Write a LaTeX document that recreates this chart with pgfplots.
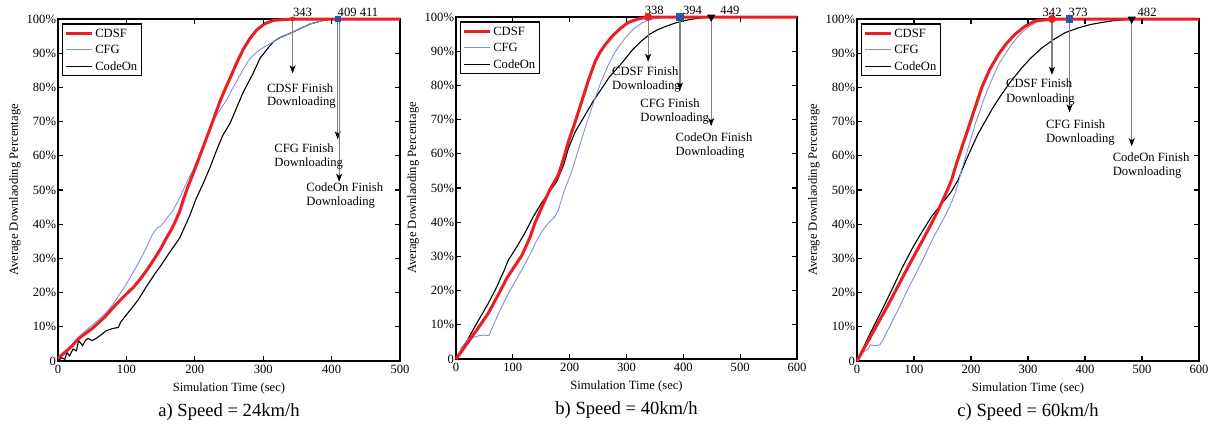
\documentclass[border=0pt]{standalone}
\usepackage{fontspec}
\setmainfont{Liberation Serif}
\usepackage{pgfplots}
\pgfplotsset{compat=1.18}
\usetikzlibrary{arrows.meta}
\definecolor{cdsfc}{RGB}{235,30,35}
\definecolor{cfgc}{RGB}{125,148,215}
\definecolor{cfgsq}{RGB}{45,85,165}
\definecolor{arrgray}{RGB}{128,128,128}
\newcommand{\fs}{\fontsize{6.3}{7}\selectfont}
\tikzset{
  arr/.style={line width=0.6pt, arrgray, -{Stealth[black, length=4pt, width=3pt, inset=1pt]}},
  ann/.style={anchor=base west, inner sep=0, font=\fs},
  num/.style={anchor=base west, inner sep=0, font=\fs, yshift=1.5pt},
  tk/.style={black, line width=0.55pt},
}
\newcommand{\myticks}[2]{%
  \pgfplotsinvokeforeach{10,20,...,90}{\draw[tk] (axis cs:0,##1) -- ++(2.6pt,0pt); \draw[tk] (axis cs:#1,##1) -- ++(-2.6pt,0pt);}%
  \pgfplotsinvokeforeach{100,200,...,#2}{\draw[tk] (axis cs:##1,0) -- ++(0pt,2.6pt); \draw[tk] (axis cs:##1,100) -- ++(0pt,-2.6pt);}%
}
\pgfplotsset{
  myax/.style={
    scale only axis, width=171pt, height=171pt,
    ymin=0, ymax=100, ytick={0,10,...,100},
    yticklabels={0,10\%,20\%,30\%,40\%,50\%,60\%,70\%,80\%,90\%,100\%},
    tick align=inside, major tick length=2.6pt,
    tick style={line width=0.55pt, black},
    axis line style={line width=0.6pt},
    xticklabel style={font=\fs, inner sep=0.8pt, yshift=-1.2pt},
    yticklabel style={font=\fs, inner sep=0.8pt},
    label style={font=\fs},
    xlabel={Simulation Time (sec)},
    ylabel={Average Downlaoding Percentage},
    xlabel style={at={(axis description cs:0.5,-0.079)}, anchor=center},
    ylabel style={at={(axis description cs:-0.126,0.5)}, anchor=center},
    clip=false,
    reverse legend,
    legend cell align=left,
    legend style={at={(0.012,0.987)}, anchor=north west, draw=black, line width=0.6pt,
      inner sep=1pt, font=\fs, nodes={inner sep=1pt, text height=4.6pt, text depth=0.4pt}, row sep=1.3pt},
    legend image code/.code={\draw[##1] (0pt,0pt) -- (12.8pt,0pt);},
  },
  cdsf/.style={color=cdsfc, line width=1.5pt, no markers},
  cfg/.style={color=cfgc, line width=0.45pt, no markers},
  codeon/.style={color=black, line width=0.55pt, no markers},
}
\begin{document}
\begin{tikzpicture}
\path[use as bounding box] (0,0) rectangle (609.5pt,212pt);
% ---------------- panel a
\begin{axis}[myax, at={(29pt,31.5pt)}, xmin=0, xmax=500, xtick={0,100,...,500},
  xticklabels={0,100,200,300,400,500}]
\addplot[codeon] coordinates {(0,0) (5,1) (10,0.5) (13,2.5) (17,1.5) (22,3.5) (27,3) (30,6) (36,4.5) (40,6) (44,6.6) (50,6) (55,6.5) (62,7.5) (70,8.8) (80,9.5) (88,9.8) (92,11.5) (98,13) (108,15.5) (117,17.8) (130,22) (142,25.6) (150,27.8) (160,30.8) (169,33.4) (178,36) (183.2,38.3) (193,42.7) (202,47.5) (212.5,52) (222,56.5) (232,61.7) (241,66) (251.5,69.5) (260,73.5) (271,78.7) (285,84) (295.3,88.5) (305,91) (315,93.4) (325,94.6) (339,95.8) (350,96.8) (368,98.5) (388,99.6) (400,100) (500,100)};
\addlegendentry{CodeOn}
\addplot[cfg] coordinates {(0,0.5) (10,2.5) (20,4.8) (30,7) (40,8.8) (50,10.5) (60,12.2) (69,13.9) (80,16.5) (90,19.5) (100,22.5) (110,26) (120,29.5) (130,33.5) (138,37) (144.3,38.8) (150,39.5) (160,42) (168.6,44.2) (176,47) (183.2,50) (190,53) (197.8,56) (212.5,63) (222,68) (230,71.3) (238,73.8) (246.6,76.3) (254,79.3) (261,81.7) (270,85) (280.7,88.5) (290,90.2) (300,91.6) (310,92.8) (320,94) (334,95.3) (350,96.8) (368,98.5) (388,99.6) (400,100) (500,100)};
\addlegendentry{CFG}
\addplot[cdsf] coordinates {(0,0.8) (10,2.5) (20,4.3) (30,6.5) (40,8) (50,9.5) (60,11.3) (69,13) (80,15.5) (90,17.6) (100,19.6) (110,21.5) (120,23.9) (130,26.6) (140,29.6) (150,32.8) (158,35.8) (166,38.5) (172,41) (178,43.8) (183.2,47.1) (190,51) (197.8,54.9) (212.5,62.7) (227,70.5) (237,76) (245,79.8) (251.5,82.7) (262,87.5) (271,91.2) (281,94.4) (290.5,96.8) (302,98.6) (315,99.6) (343,100) (500,100)};
\addlegendentry{CDSF}
\addplot[forget plot, only marks, mark=*, color=cdsfc, mark size=1pt] coordinates {(343,100)};
\addplot[forget plot, only marks, mark=square*, color=cfgsq, mark size=1.3pt] coordinates {(409,100)};
\myticks{500}{400}
\draw[arr] (axis cs:343,100) -- (axis cs:343,84.1);
\draw[arr] (axis cs:409,100) -- (axis cs:409,64.8);
\draw[arr] (axis cs:411,100) -- (axis cs:411,52.4);
\node[ann] at (axis cs:305.1,78.6) {CDSF Finish};
\node[ann] at (axis cs:305.1,74.6) {Downloading};
\node[ann] at (axis cs:315.8,60.9) {CFG Finish};
\node[ann] at (axis cs:315.8,56.8) {Downloading};
\node[ann] at (axis cs:362.6,49.7) {CodeOn Finish};
\node[ann] at (axis cs:362.6,45.4) {Downloading};
\node[num] at (axis cs:343.1,100) {343};
\node[num] at (axis cs:408.4,100) {409 411};
\node[font=\fontsize{9.3}{11}\selectfont] at (axis description cs:0.5,-0.149) {a) Speed = 24km/h};
\end{axis}
% ---------------- panel b
\begin{axis}[myax, at={(228pt,32.5pt)}, width=170.5pt, xmin=0, xmax=600, xtick={0,100,...,600},
  xticklabels={0,100,200,300,400,500,600}]
\addplot[codeon] coordinates {(0,0) (10,2.8) (20,5.5) (35,10) (56.9,16.3) (70,20.5) (85,26) (92,28.9) (107,32.8) (120,36.5) (136,41.6) (150,45.5) (165,49) (177,51.8) (190,57) (197.7,61.6) (210,66.5) (227,71.3) (240,75) (256.4,79.1) (270,82.5) (291.6,86.5) (311,90.5) (325,92.8) (341,95) (355,96.3) (370,97.3) (385,98.2) (400,98.9) (420,99.5) (440,99.9) (449,100) (600,100)};
\addlegendentry{CodeOn}
\addplot[cfg] coordinates {(0,0) (5,1.5) (10,3.5) (15,4.5) (22,6) (30,6.3) (40,6.8) (50,7) (58,6.8) (62,8.5) (74.5,13.2) (90,18.5) (100,21.5) (115.6,26) (130,30.5) (140,34) (150,37) (160,39.3) (174,41.6) (180,43.5) (190,49) (197.7,52.3) (203.5,54.8) (215,61) (227,67.5) (235,71.5) (244.6,76.2) (255,81) (268,86) (280,89.8) (297.4,93.8) (312,96.5) (326.8,98.2) (340,99.2) (360,99.8) (394,100) (600,100)};
\addlegendentry{CFG}
\addplot[cdsf] coordinates {(0,0) (10,2.3) (25,5.8) (40,9.3) (56.9,13.4) (75,19) (90,23.8) (100,26.3) (115.6,30.2) (130,35.5) (139,39.8) (150,44) (165,49.5) (180,53.8) (190,59) (197.7,63.5) (210,69.5) (221,75.2) (233,81.5) (244.6,86.9) (253,89.6) (262,91.8) (274,94.2) (288,96.5) (303,98.4) (320,99.4) (338,100) (600,100)};
\addlegendentry{CDSF}
\addplot[forget plot, only marks, mark=*, color=cdsfc, mark size=1.8pt] coordinates {(338,100)};
\addplot[forget plot, only marks, mark=square*, color=cfgsq, mark size=1.6pt] coordinates {(394,100)};
\addplot[forget plot, only marks, mark=triangle*, mark options={rotate=180}, color=black, mark size=2pt] coordinates {(449,100)};
\myticks{600}{500}
\draw[arr] (axis cs:338,100) -- (axis cs:338,86.9);
\draw[arr] (axis cs:394,100) -- (axis cs:394,78.5);
\draw[arr] (axis cs:449,100) -- (axis cs:449,68.1);
\node[ann] at (axis cs:274,82.9) {CDSF Finish};
\node[ann] at (axis cs:274,78.9) {Downloading};
\node[ann] at (axis cs:323.8,73.6) {CFG Finish};
\node[ann] at (axis cs:323.8,69.5) {Downloading};
\node[ann] at (axis cs:385.9,63.7) {CodeOn Finish};
\node[ann] at (axis cs:385.9,59.6) {Downloading};
\node[num] at (axis cs:331.4,100) {338};
\node[num] at (axis cs:398.9,100) {394};
\node[num] at (axis cs:464.6,100) {449};
\node[font=\fontsize{9.3}{11}\selectfont] at (axis description cs:0.5,-0.149) {b) Speed = 40km/h};
\end{axis}
% ---------------- panel c
\begin{axis}[myax, at={(428.5pt,31.5pt)}, xmin=0, xmax=600, xtick={0,100,...,600},
  xticklabels={0,100,200,300,400,500,600}]
\addplot[codeon] coordinates {(0,0) (10,3.5) (20,7) (35,12) (50,17) (66.7,22.8) (80,27.5) (98.8,33.5) (115,38) (131,42.3) (150,46.3) (165,49.4) (177.5,53) (190,58.2) (201,62.3) (212,66.3) (224.6,70) (240,74.5) (253.8,78) (270,81.8) (289,85.7) (305,88.6) (324,91.5) (345,94) (365,96) (390,97.5) (410,98.4) (430,99) (450,99.5) (470,99.8) (482,100) (600,100)};
\addlegendentry{CodeOn}
\addplot[cfg] coordinates {(0,0) (5,1.5) (10,2.5) (20,3.5) (23,4.7) (32,4.5) (40,4.7) (45,6) (51.5,8.2) (60,11) (75,16) (93,22.3) (101,24.8) (115,29.5) (133.6,36) (150,41) (163,45.3) (172,49) (177.8,52.2) (183.6,56) (190,59.5) (200,65) (207,69.1) (215,72.8) (222,76.3) (230.4,79.9) (240,83.6) (250,87.2) (259.6,89.6) (270,92.3) (280,94.4) (289,96) (300,97.6) (318,99.3) (340,99.8) (373,100) (600,100)};
\addlegendentry{CFG}
\addplot[cdsf] coordinates {(0,0) (10,3) (25,7.5) (40,12) (54.9,16.5) (75.4,23) (96,29.5) (115,35.3) (131,40.3) (145,45) (160,50.5) (166,53) (172,56.4) (184,62.5) (195.3,68.1) (207,74) (218.7,79.9) (233,85.3) (248,89.6) (262,92.8) (277,95.5) (295,97.9) (312,99.4) (342,100) (600,100)};
\addlegendentry{CDSF}
\addplot[forget plot, only marks, mark=*, color=cdsfc, mark size=1.8pt] coordinates {(342,100)};
\addplot[forget plot, only marks, mark=square*, color=cfgsq, mark size=1.6pt] coordinates {(373,100)};
\addplot[forget plot, only marks, mark=triangle*, mark options={rotate=180}, color=black, mark size=2pt] coordinates {(482,100)};
\myticks{600}{500}
\draw[arr] (axis cs:342,100) -- (axis cs:342,83.7);
\draw[arr] (axis cs:373,100) -- (axis cs:373,72.7);
\draw[arr] (axis cs:482,100) -- (axis cs:482,62.8);
\node[ann] at (axis cs:260.9,80) {CDSF Finish};
\node[ann] at (axis cs:260.9,75.7) {Downloading};
\node[ann] at (axis cs:331,68) {CFG Finish};
\node[ann] at (axis cs:331,63.8) {Downloading};
\node[ann] at (axis cs:448,58.3) {CodeOn Finish};
\node[ann] at (axis cs:448,54.1) {Downloading};
\node[num] at (axis cs:325,100) {342};
\node[num] at (axis cs:370.7,100) {373};
\node[num] at (axis cs:491.7,100) {482};
\node[font=\fontsize{9.3}{11}\selectfont] at (axis description cs:0.5,-0.149) {c) Speed = 60km/h};
\end{axis}
\end{tikzpicture}
\end{document}
